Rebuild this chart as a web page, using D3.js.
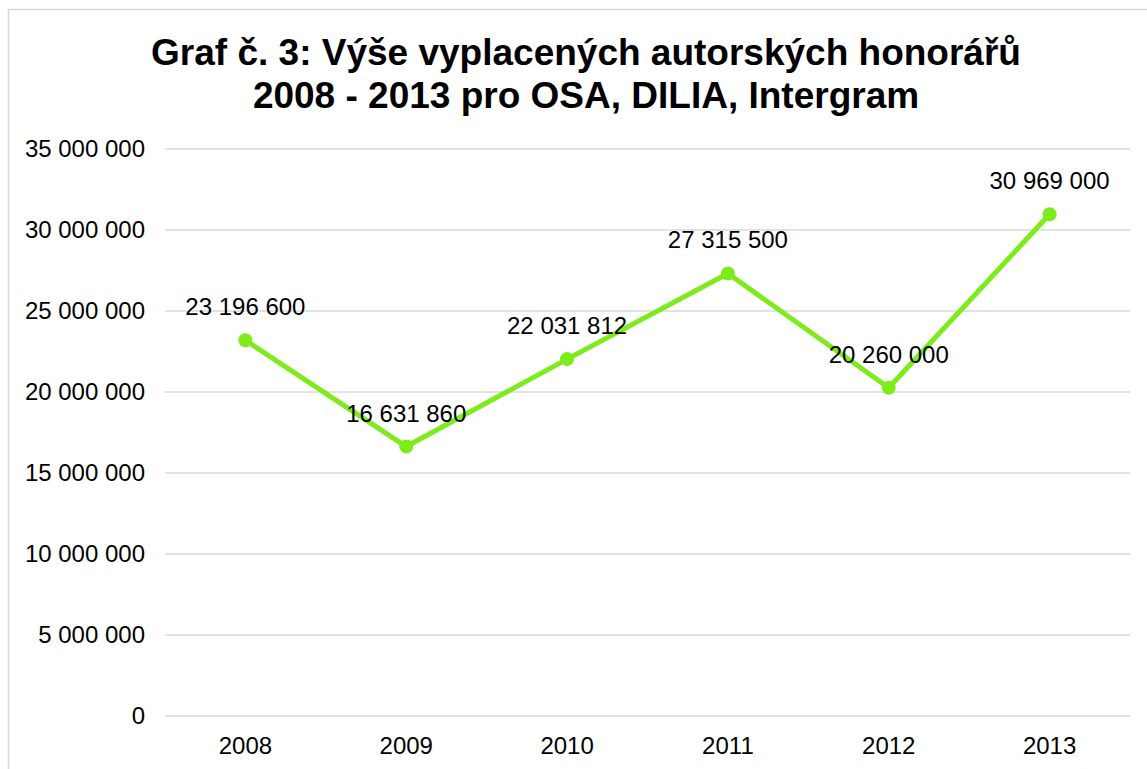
<!DOCTYPE html>
<html><head><meta charset="utf-8">
<script src="https://cdn.jsdelivr.net/npm/d3@7"></script>
<style>body{margin:0;background:#fff}svg{display:block}text{font-family:"Liberation Sans",Arial,sans-serif}</style>
</head><body>
<script>
const categories = ["2008","2009","2010","2011","2012","2013"];
const values = [23196600,16631860,22031812,27315500,20260000,30969000];
const yTicks = [0,5000000,10000000,15000000,20000000,25000000,30000000,35000000];
const titleLines = ["Graf č. 3: Výše vyplacených autorských honorářů","2008 - 2013 pro OSA, DILIA, Intergram"];

const W=1147,H=769;
const svg=d3.select("body").append("svg").attr("width",W).attr("height",H);
svg.append("rect").attr("x",8.5).attr("y",9.5).attr("width",W+20).attr("height",H+20)
  .attr("fill","#fff").attr("stroke","#d9d9d9").attr("stroke-width",1.5);

const fmt=v=>d3.format(",")(v).replace(/,/g," ");
const x=d3.scaleBand().domain(categories).range([165,1130]);
const y=d3.scaleLinear().domain([0,35000000]).range([716,149]);

svg.append("g").selectAll("line").data(yTicks).join("line")
  .attr("x1",165).attr("x2",1130).attr("y1",d=>y(d)).attr("y2",d=>y(d))
  .attr("stroke","#d9d9d9").attr("stroke-width",1.5);

const yAxis=svg.append("g").attr("transform","translate(165,0)")
  .call(d3.axisLeft(y).tickValues(yTicks).tickFormat(fmt).tickSize(0).tickPadding(20));
yAxis.select(".domain").remove();
yAxis.selectAll("text").attr("font-size",24).attr("fill","#000").attr("font-family","Liberation Sans, Arial, sans-serif");

const xAxis=svg.append("g").attr("transform","translate(0,716)")
  .call(d3.axisBottom(x).tickSize(0).tickPadding(21));
xAxis.select(".domain").remove();
xAxis.selectAll("text").attr("font-size",24).attr("fill","#000").attr("font-family","Liberation Sans, Arial, sans-serif");

const cx=d=>x(d)+x.bandwidth()/2;
const line=d3.line().x((d,i)=>cx(categories[i])).y(d=>y(d));
svg.append("path").datum(values).attr("d",line).attr("fill","none")
  .attr("stroke","#7DEB1C").attr("stroke-width",5).attr("stroke-linejoin","round");
svg.append("g").selectAll("circle").data(values).join("circle")
  .attr("cx",(d,i)=>cx(categories[i])).attr("cy",d=>y(d)).attr("r",7).attr("fill","#7DEB1C");
svg.append("g").selectAll("text").data(values).join("text")
  .attr("x",(d,i)=>cx(categories[i])).attr("y",d=>y(d)-25).attr("text-anchor","middle")
  .attr("font-size",24).attr("fill","#000").text(fmt);

svg.append("g").selectAll("text").data(titleLines).join("text")
  .attr("x",586).attr("y",(d,i)=>65+i*43).attr("text-anchor","middle")
  .attr("font-size",37).attr("font-weight","bold").attr("fill","#000").text(d=>d);
</script>
</body></html>
